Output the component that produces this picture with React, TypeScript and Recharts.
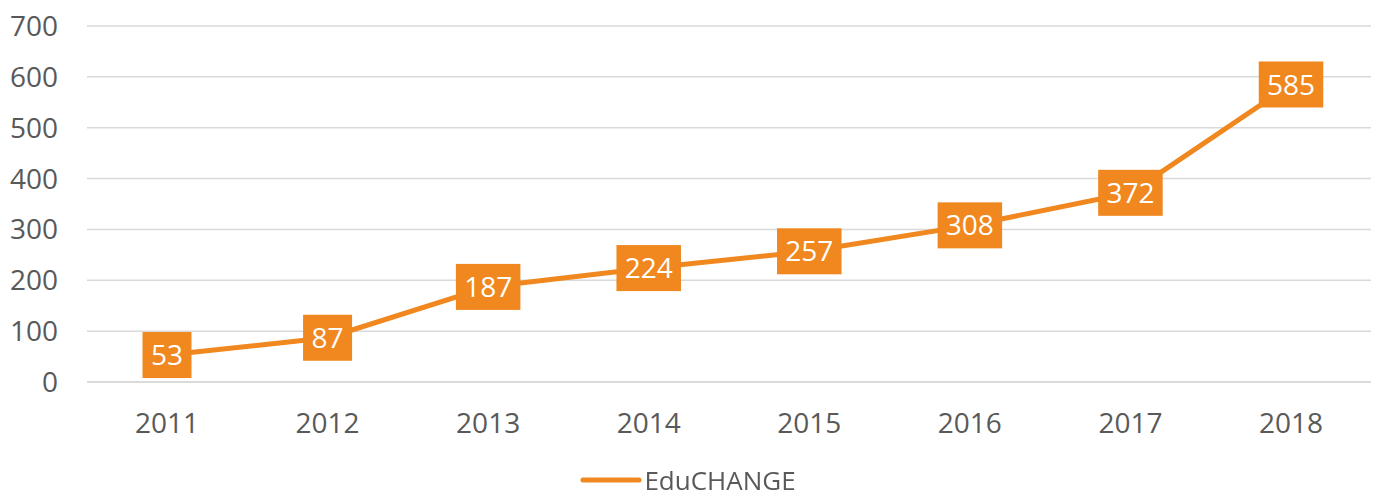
import { LineChart, Line, XAxis, YAxis, CartesianGrid, Legend, LabelList } from "recharts";

const years = ["2011", "2012", "2013", "2014", "2015", "2016", "2017", "2018"];
const eduChange = [53, 87, 187, 224, 257, 308, 372, 585];
const yTicks = [0, 100, 200, 300, 400, 500, 600, 700];

const ORANGE = "#F0871F";
const TEXT = "#595959";
const FONT = "'Open Sans', sans-serif";

const data = years.map((y, i) => ({ year: y, value: eduChange[i] }));

function BoxLabel(props: any) {
  const { x, y, value } = props;
  const s = String(value);
  const w = s.length * 15.5 + 18;
  const h = 46;
  return (
    <g>
      <rect x={x - w / 2} y={y - h / 2} width={w} height={h} fill={ORANGE} />
      <text
        x={x}
        y={y}
        dy="0.36em"
        textAnchor="middle"
        fill="#FFFFFF"
        fontSize={28}
        fontFamily={FONT}
      >
        {s}
      </text>
    </g>
  );
}

function LegendContent() {
  return (
    <div style={{ display: "flex", justifyContent: "center", alignItems: "center", height: 26 }}>
      <svg width={62} height={10}>
        <line x1={3} y1={5} x2={59} y2={5} stroke={ORANGE} strokeWidth={5} strokeLinecap="round" />
      </svg>
      <span style={{ fontFamily: FONT, fontSize: 26, color: TEXT, marginLeft: 2, lineHeight: "26px" }}>
        EduCHANGE
      </span>
    </div>
  );
}

export default function App() {
  return (
    <div style={{ position: "fixed", left: 0, top: 0, background: "#fff" }}>
      <LineChart
        width={1376}
        height={497}
        data={data}
        margin={{ top: 26, right: 5, left: 0, bottom: 0 }}
      >
        <CartesianGrid vertical={false} stroke="#D9D9D9" strokeWidth={1.5} />
        <XAxis
          dataKey="year"
          padding={{ left: 80, right: 80 }}
          axisLine={{ stroke: "#D9D9D9", strokeWidth: 1.5 }}
          tickLine={false}
          tickMargin={25}
          height={89}
          interval={0}
          tick={{ fill: TEXT, fontSize: 28, fontFamily: FONT }}
        />
        <YAxis
          domain={[0, 700]}
          ticks={yTicks}
          width={87}
          axisLine={false}
          tickLine={false}
          tickMargin={23}
          tick={{ fill: TEXT, fontSize: 28, fontFamily: FONT }}
        />
        <Legend
          content={<LegendContent />}
          wrapperStyle={{ top: 467, left: 0, width: 1376 }}
        />
        <Line
          dataKey="value"
          name="EduCHANGE"
          stroke={ORANGE}
          strokeWidth={5}
          dot={false}
          strokeLinejoin="round"
          isAnimationActive={false}
        >
          <LabelList dataKey="value" content={<BoxLabel />} />
        </Line>
      </LineChart>
    </div>
  );
}
